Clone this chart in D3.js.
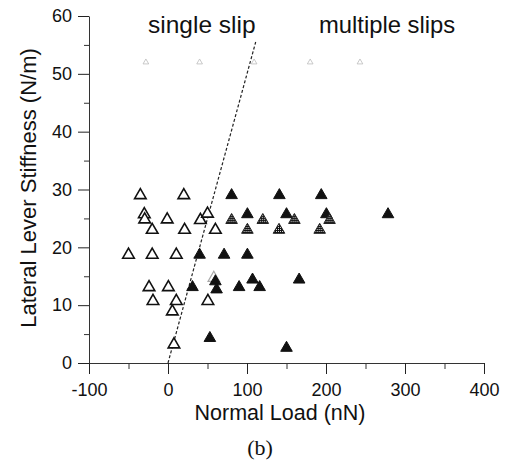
<!DOCTYPE html>
<html lang="en">
    <head>
        <meta charset="utf-8">
        <title>Lateral lever stiffness vs normal load</title>
        <script type="text/javascript" src="https://cdn.jsdelivr.net/npm/d3@7"></script>
        <style type="text/css">
            body { margin: 0; background: #fff; }
            text { font-family: "Liberation Sans", Arial, sans-serif; fill: #111; }
        </style>
    </head>

    <body>
        <script type="text/javascript">
            // open triangles (single slip)
            var openX = [-35, 20, -30, -29.5, -20, -1, 21, 41, 50, 60, -50, -20, 10.5, -24, 0.5, -19, 10.5, 50.5, 5.5, 7.5];
            var openY = [29, 29, 25.7, 24.8, 23, 24.8, 23, 24.7, 25.8, 23, 18.7, 18.7, 18.7, 13.1, 13.1, 10.7, 10.7, 10.7, 8.9, 3.2];
            // filled triangles (multiple slips)
            var fillX = [80.5, 141, 194, 100.5, 150, 200.5, 278.5, 40, 71, 100.5, 31, 60, 61.5, 90, 107, 116, 166, 53, 150];
            var fillY = [29, 29, 29, 25.7, 25.7, 25.7, 25.7, 18.7, 18.7, 18.7, 13.1, 14.1, 12.7, 13.1, 14.4, 13.1, 14.4, 4.3, 2.6];
            // filled triangles that look screened in the scan
            var hatchX = [80.5, 120, 160, 204.5, 100.5, 140.5, 192];
            var hatchY = [24.7, 24.7, 24.7, 24.7, 23, 23, 23];
            // faint grey marks at the top and one grey open one
            var faintX = [-28, 40, 109, 180, 243];
            var faintY = [52, 52, 52, 52, 52];
            var greyX = [58];
            var greyY = [14.7];
            // dashed boundary line
            var lineX = [0, 111];
            var lineY = [0, 55.5];

            var xTicks = [-100, 0, 100, 200, 300, 400];
            var yTicks = [0, 10, 20, 30, 40, 50, 60];

            var w = 505;
            var h = 464;

            var svg = d3.select("body")
                    .append("svg")
                    .attr("width", w)
                    .attr("height", h);

            // screened fill
            var pat = svg.append("defs").append("pattern")
                    .attr("id", "screen")
                    .attr("patternUnits", "userSpaceOnUse")
                    .attr("width", 2)
                    .attr("height", 2);
            pat.append("rect").attr("width", 2).attr("height", 2).attr("fill", "#111");
            pat.append("rect").attr("x", 1).attr("y", 1).attr("width", 1).attr("height", 1).attr("fill", "#ddd");

            var xScale = d3.scaleLinear()
                            .domain([-100, 400])
                            .range([89, 484]);
            var yScale = d3.scaleLinear()
                            .domain([0, 60])
                            .range([363, 16]);

            // minor ticks first
            svg.append("g")
                .attr("transform", "translate(0,363)")
                .call(d3.axisBottom(xScale).tickValues([-50, 50, 150, 250, 350]).tickSize(6).tickFormat(""))
                .call(function(g) { g.select(".domain").remove(); })
                .selectAll("line").attr("stroke", "#333");
            svg.append("g")
                .attr("transform", "translate(89,0)")
                .call(d3.axisLeft(yScale).tickValues([5, 15, 25, 35, 45, 55]).tickSize(5).tickFormat(""))
                .call(function(g) { g.select(".domain").remove(); })
                .selectAll("line").attr("stroke", "#333");

            // plain hyphen minus like the original
            var fmt = function(d) { return String(d); };

            var xAxis = svg.append("g")
                .attr("transform", "translate(0,363)")
                .call(d3.axisBottom(xScale).tickValues(xTicks).tickFormat(fmt).tickSize(11).tickPadding(9).tickSizeOuter(0));
            var yAxis = svg.append("g")
                .attr("transform", "translate(89,0)")
                .call(d3.axisLeft(yScale).tickValues(yTicks).tickFormat(fmt).tickSize(11).tickPadding(6).tickSizeOuter(0));

            [xAxis, yAxis].forEach(function(a) {
                a.selectAll("text")
                    .attr("font-family", "Liberation Sans, Arial, sans-serif")
                    .attr("font-size", "18px")
                    .attr("fill", "#111");
                a.selectAll("line").attr("stroke", "#222");
                a.select(".domain").attr("stroke", "#333");
            });

            // dashed line
            svg.append("line")
                .attr("x1", xScale(lineX[0]))
                .attr("y1", yScale(lineY[0]))
                .attr("x2", xScale(lineX[1]))
                .attr("y2", yScale(lineY[1]))
                .attr("stroke", "#222")
                .attr("stroke-width", 1.2)
                .attr("stroke-dasharray", "3,2");

            var tri = d3.symbol().type(d3.symbolTriangle).size(58);
            var triSmall = d3.symbol().type(d3.symbolTriangle).size(14);

            function plot(xs, ys, sym, fill, stroke, sw) {
                svg.append("g")
                    .selectAll("path")
                    .data(xs)
                    .enter()
                    .append("path")
                    .attr("d", sym)
                    .attr("transform", function(d, i) {
                        return "translate(" + xScale(d) + "," + yScale(ys[i]) + ")";
                    })
                    .attr("fill", fill)
                    .attr("stroke", stroke)
                    .attr("stroke-width", sw);
            }

            plot(faintX, faintY, triSmall, "none", "#bbb", 0.8);
            plot(greyX, greyY, tri, "none", "#aaa", 1.2);
            plot(openX, openY, tri, "#fff", "#111", 1.6);
            plot(fillX, fillY, tri, "#111", "#111", 1);
            plot(hatchX, hatchY, tri, "url(#screen)", "#222", 1);

            // labels
            svg.append("text")
                .attr("x", 148)
                .attr("y", 33)
                .attr("font-size", "24.5px")
                .text("single slip");
            svg.append("text")
                .attr("x", 319)
                .attr("y", 33)
                .attr("font-size", "23.8px")
                .text("multiple slips");

            svg.append("text")
                .attr("x", 280)
                .attr("y", 420)
                .attr("text-anchor", "middle")
                .attr("font-size", "21.5px")
                .text("Normal Load (nN)");

            svg.append("text")
                .attr("transform", "translate(36,188) rotate(-90)")
                .attr("text-anchor", "middle")
                .attr("font-size", "22px")
                .text("Lateral Lever Stiffness (N/m)");

            svg.append("text")
                .attr("x", 260)
                .attr("y", 455)
                .attr("text-anchor", "middle")
                .style("font-family", "Liberation Serif, Times New Roman, serif")
                .attr("font-size", "22px")
                .text("(b)");
        </script>
    </body>
</html>
